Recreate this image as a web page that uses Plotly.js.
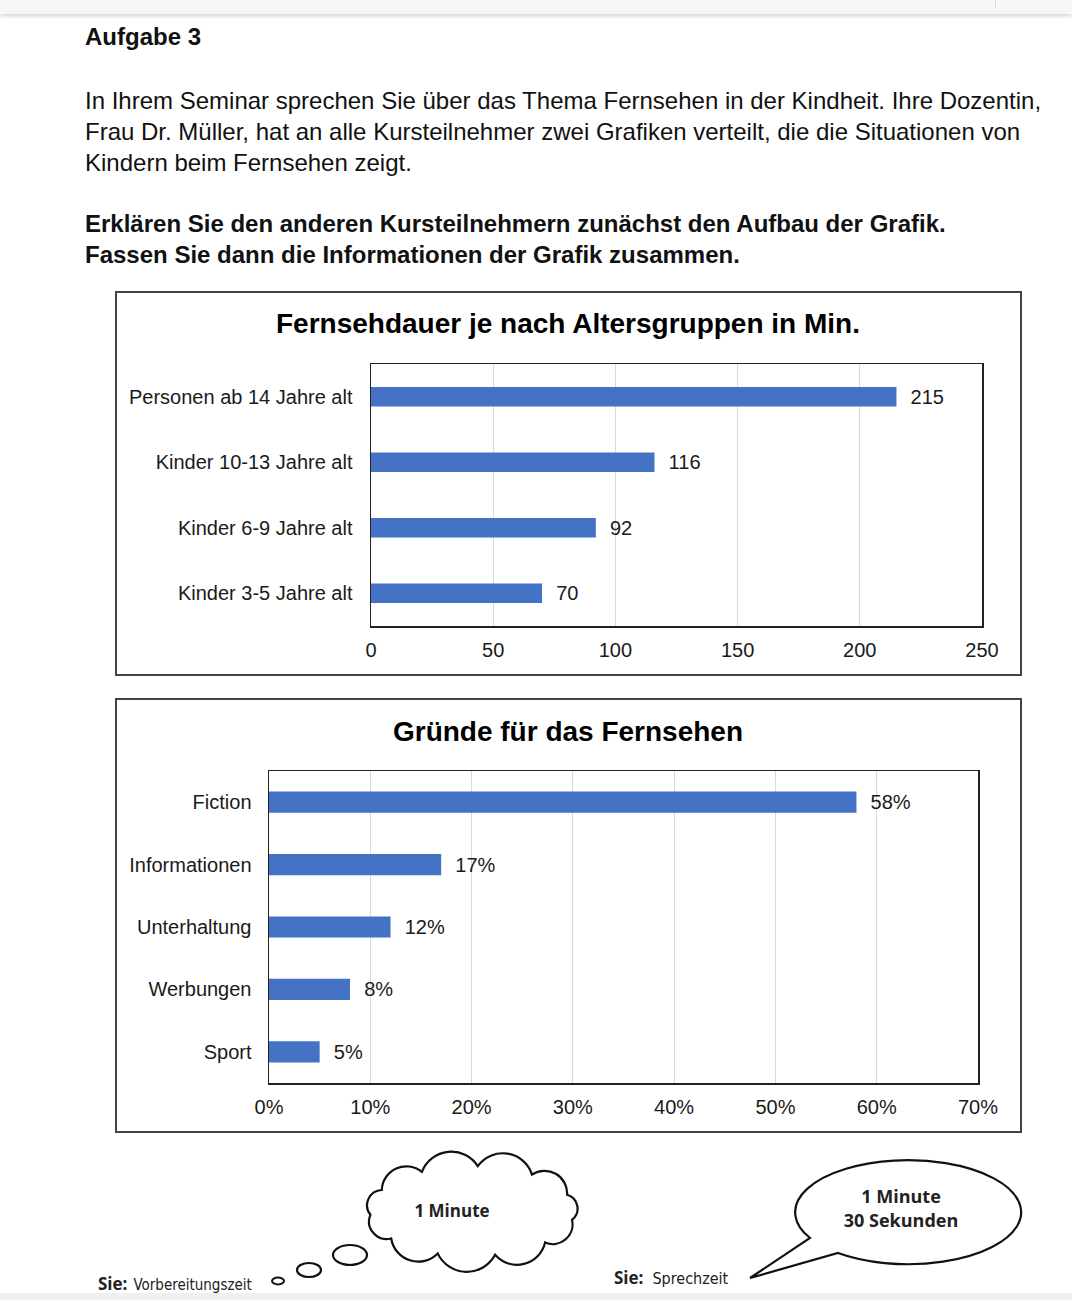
<!DOCTYPE html>
<html>
<head>
<meta charset="utf-8">
<script src="https://cdn.plot.ly/plotly-3.0.1.min.js"></script>
<style>
  html, body { margin:0; padding:0; background:#fff; }
  body { width:1072px; height:1300px; position:relative; overflow:hidden; font-family:"Liberation Sans", Arial, sans-serif; color:#111; }
  .topbar { position:absolute; left:0; top:0; width:1072px; height:14px; background:#f7f7f7; box-shadow:0 2px 4px rgba(0,0,0,0.18); }
  .topbar .sep { position:absolute; left:995px; top:0; width:1px; height:8px; background:#ddd; }
  .txt { position:absolute; left:85px; font-size:24px; line-height:31px; white-space:nowrap; }
  .box { position:absolute; border:2px solid #444; box-sizing:border-box; }
  .plot { position:absolute; }
  .bottomband { position:absolute; left:0; top:1293px; width:1072px; height:7px; background:#f0f0f0; }
  svg.deco { position:absolute; left:0; top:0; }
</style>
</head>
<body>
<div class="topbar"><div class="sep"></div></div>

<div class="txt" style="top:21px;font-weight:bold;">Aufgabe 3</div>
<div class="txt" style="top:85px;">In Ihrem Seminar sprechen Sie über das Thema Fernsehen in der Kindheit. Ihre Dozentin,<br>Frau Dr. Müller, hat an alle Kursteilnehmer zwei Grafiken verteilt, die die Situationen von<br>Kindern beim Fernsehen zeigt.</div>
<div class="txt" style="top:208px;font-weight:bold;">Erklären Sie den anderen Kursteilnehmern zunächst den Aufbau der Grafik.<br>Fassen Sie dann die Informationen der Grafik zusammen.</div>

<div class="box" style="left:115px;top:291px;width:907px;height:385px;"></div>
<div id="chart1" class="plot" style="left:116px;top:292px;width:904px;height:382px;"></div>

<div class="box" style="left:115px;top:698px;width:907px;height:435px;"></div>
<div id="chart2" class="plot" style="left:116px;top:699px;width:904px;height:432px;"></div>

<svg class="deco" width="1072" height="1300" xmlns="http://www.w3.org/2000/svg">
  <path id="cloud" fill="#fff" stroke="#111" stroke-width="2.2" d=""/>
  <ellipse cx="350" cy="1255" rx="17" ry="10" fill="#fff" stroke="#111" stroke-width="2.2"/>
  <ellipse cx="309" cy="1270" rx="12" ry="7" fill="#fff" stroke="#111" stroke-width="2.2"/>
  <ellipse cx="278" cy="1281" rx="6" ry="3.5" fill="#fff" stroke="#111" stroke-width="2"/>
  <text x="452" y="1217" text-anchor="middle" font-family="Open Sans, sans-serif" font-weight="bold" font-size="17" fill="#222">1 Minute</text>
  <path fill="#fff" stroke="#111" stroke-width="2.2" d="M 838 1253 A 113 52 0 1 0 810 1238 L 750 1278 Z"/>
  <text x="901" y="1203" text-anchor="middle" font-family="Open Sans, sans-serif" font-weight="bold" font-size="18" fill="#222">1 Minute</text>
  <text x="901" y="1227" text-anchor="middle" font-family="Open Sans, sans-serif" font-weight="bold" font-size="18" fill="#222">30 Sekunden</text>
  <text x="98" y="1290" font-family="Open Sans, sans-serif" font-size="17" fill="#222"><tspan font-weight="bold">Sie:</tspan><tspan font-family="DejaVu Sans Condensed, Liberation Sans Narrow, sans-serif" font-size="15" dx="6">Vorbereitungszeit</tspan></text>
  <text x="614" y="1284" font-family="Open Sans, sans-serif" font-size="17" fill="#222"><tspan font-weight="bold">Sie:</tspan><tspan font-family="DejaVu Sans Condensed, Liberation Sans Narrow, sans-serif" font-size="16" dx="9">Sprechzeit</tspan></text>
</svg>
<div class="bottomband"></div>

<script>
// ---- Data: chart 1 ----
const ageGroups = ["Personen ab 14 Jahre alt", "Kinder 10-13 Jahre alt", "Kinder 6-9 Jahre alt", "Kinder 3-5 Jahre alt"];
const minutes = [215, 116, 92, 70];

// ---- Data: chart 2 ----
const reasons = ["Fiction", "Informationen", "Unterhaltung", "Werbungen", "Sport"];
const shares = [0.58, 0.17, 0.12, 0.08, 0.05];

const barColor = "#4472C4";
const fontFam = "Liberation Sans, Arial, sans-serif";
const txtColor = "#1a1a1a";

function axisX(range, dtick, fmt) {
  const a = {
    range: range, dtick: dtick, tick0: 0,
    showgrid: true, gridcolor: "#d9d9d9", gridwidth: 1,
    showline: true, linecolor: "#222", linewidth: 1.5, mirror: true,
    zeroline: false,
    ticks: "outside", ticklen: 5, tickcolor: "rgba(0,0,0,0)",
    tickfont: {family: fontFam, size: 20, color: txtColor},
    fixedrange: true
  };
  if (fmt) a.tickformat = fmt;
  return a;
}
function axisY(cats, tl) {
  return {
    type: "category", categoryorder: "array", categoryarray: cats,
    autorange: "reversed",
    showgrid: false,
    showline: true, linecolor: "#222", linewidth: 1.5, mirror: true,
    ticks: "outside", ticklen: tl, tickcolor: "rgba(0,0,0,0)",
    tickfont: {family: fontFam, size: 20, color: txtColor},
    fixedrange: true
  };
}

Plotly.newPlot("chart1", [{
  type: "bar", orientation: "h",
  x: minutes, y: ageGroups,
  marker: {color: barColor},
  width: 0.3,
  texttemplate: "\u00a0\u00a0%{x}",
  textposition: "outside",
  constraintext: "none",
  cliponaxis: false,
  textfont: {family: fontFam, size: 20, color: txtColor},
  hoverinfo: "none"
}], {
  width: 904, height: 382,
  margin: {l: 255, r: 38, t: 72, b: 48},
  paper_bgcolor: "rgba(0,0,0,0)", plot_bgcolor: "#fff",
  title: {text: "<b>Fernsehdauer je nach Altersgruppen in Min.</b>", font: {family: fontFam, size: 28, color: "#000"},
          x: 0.5, xanchor: "center", y: 1 - 31/382, yanchor: "middle", yref: "container"},
  xaxis: axisX([0, 250], 50),
  yaxis: axisY(ageGroups, 13),
  showlegend: false
}, {staticPlot: true, displayModeBar: false});

Plotly.newPlot("chart2", [{
  type: "bar", orientation: "h",
  x: shares, y: reasons,
  marker: {color: barColor},
  width: 0.34,
  texttemplate: "\u00a0\u00a0%{x:.0%}",
  textposition: "outside",
  constraintext: "none",
  cliponaxis: false,
  textfont: {family: fontFam, size: 20, color: txtColor},
  hoverinfo: "none"
}], {
  width: 904, height: 432,
  margin: {l: 153, r: 42, t: 72, b: 48},
  paper_bgcolor: "rgba(0,0,0,0)", plot_bgcolor: "#fff",
  title: {text: "<b>Gründe für das Fernsehen</b>", font: {family: fontFam, size: 28, color: "#000"},
          x: 0.5, xanchor: "center", y: 1 - 32/432, yanchor: "middle", yref: "container"},
  xaxis: axisX([0, 0.7], 0.1, ".0%"),
  yaxis: axisY(reasons, 12),
  showlegend: false
}, {staticPlot: true, displayModeBar: false});

// Decorative thought cloud outline (bumps around an ellipse)
(function() {
  const cx = 472, cy = 1211, rx = 102, ry = 45, n = 11;
  let pts = [];
  for (let i = 0; i < n; i++) {
    const t = (i / n) * 2 * Math.PI + 0.2;
    pts.push([cx + rx * Math.cos(t), cy + ry * Math.sin(t)]);
  }
  let d = "M " + pts[0][0].toFixed(1) + " " + pts[0][1].toFixed(1);
  for (let i = 1; i <= n; i++) {
    const p = pts[i % n], q = pts[i - 1];
    const chord = Math.hypot(p[0] - q[0], p[1] - q[1]);
    const r = chord * 0.56;
    d += " A " + r.toFixed(1) + " " + r.toFixed(1) + " 0 0 1 " + p[0].toFixed(1) + " " + p[1].toFixed(1);
  }
  d += " Z";
  document.getElementById("cloud").setAttribute("d", d);
})();
</script>
</body>
</html>
